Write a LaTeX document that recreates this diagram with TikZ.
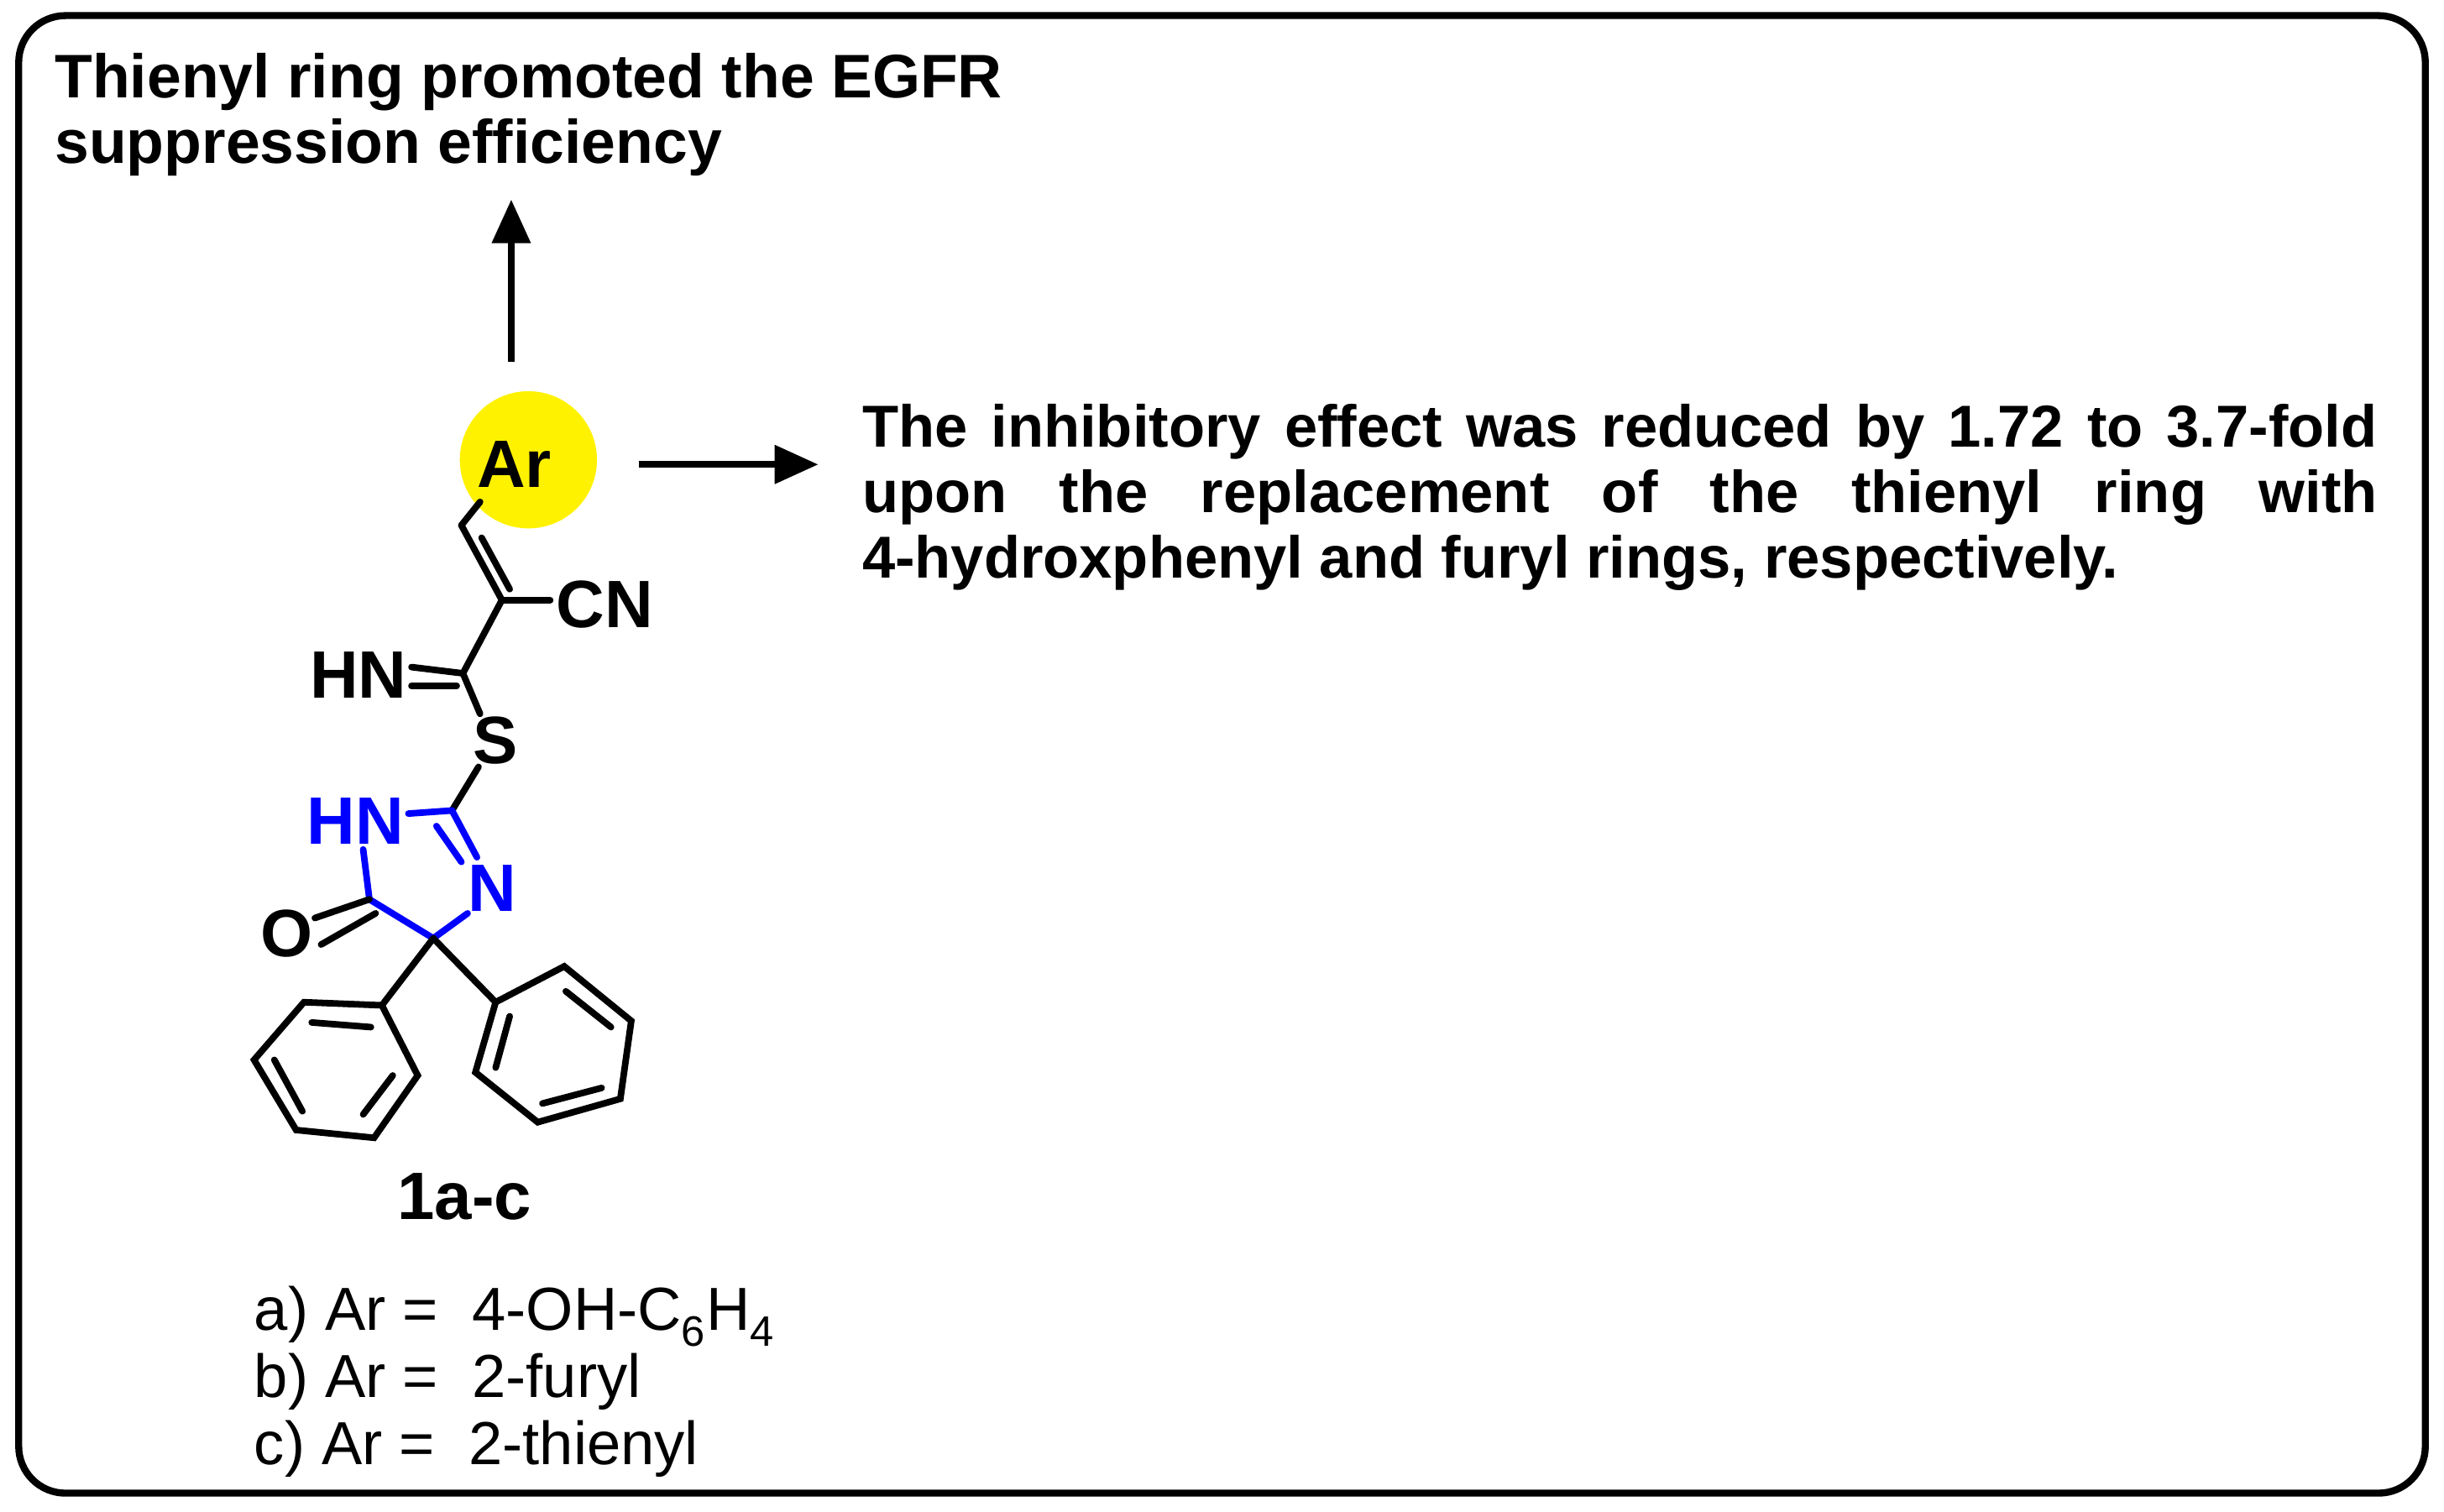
\documentclass[tikz,border=0pt]{standalone}
\usepackage{fontspec}
\setmainfont{Liberation Sans}
\usetikzlibrary{arrows.meta}
\begin{document}
\begin{tikzpicture}[x=1pt,y=-1pt,
  bond/.style={line width=4.2pt,line cap=round},
  bl/.style={bond,draw=blue},
  arr/.style={line width=4.5pt,-{Triangle[length=28pt,width=24pt]}},
  lab/.style={font=\fontsize{43}{48}\selectfont\bfseries,inner sep=0pt},
  txt/.style={font=\fontsize{38}{42}\selectfont\bfseries,inner sep=0pt}]
\useasboundingbox (0,0) rectangle (1568,970);
\fill[white] (0,0) rectangle (1568,970);
\draw[line width=4.5pt,rounded corners=30pt] (12,10) rectangle (1556,958);
\node[txt,font=\fontsize{39.5}{42}\selectfont\bfseries,anchor=north west,align=left] (title) at (35,34) {Thienyl ring promoted the EGFR\\suppression efficiency};
\fill[yellow] (339,295) circle (44);
\node[lab] (ar) at (330,298) {Ar};
\coordinate (up0) at (328,232); \coordinate (up1) at (328,128);
\draw[arr] (up0) -- (up1);
\coordinate (r0) at (410,298); \coordinate (r1) at (525,298);
\draw[arr] (r0) -- (r1);
\node[txt,anchor=north west,text width=972pt,align=justify] (desc) at (553,259) {The inhibitory effect was reduced by 1.72 to 3.7-fold\linebreak upon the replacement of the thienyl ring with\linebreak 4-hydroxphenyl and furyl rings, respectively.};
% skeleton
\coordinate (a1) at (296,337);
\coordinate (a2) at (322,385);
\coordinate (a3) at (297,432);
\node[lab] (cn) at (388,388) {CN};
\node[lab] (hn) at (230,433) {HN};
\node[lab] (s) at (318,475) {S};
\coordinate (c2) at (290,520);
\node[lab,text=blue] (n3) at (316,570) {N};
\node[lab,text=blue] (n1) at (228,527) {HN};
\coordinate (c4) at (278,602);
\coordinate (c5) at (237,577);
\node[lab] (o) at (184,599) {O};
\draw[bond] (308,322) -- (a1);
\draw[bond] (a1) -- (a2);
\draw[bond] (309,345) -- (327,378);
\draw[bond] (a2) -- (353,385);
\draw[bond] (a2) -- (a3);
\draw[bond] (a3) -- (264,428);
\draw[bond] (293,440) -- (264,440);
\draw[bond] (a3) -- (308,458);
\draw[bond] (307,492) -- (c2);
\draw[bl] (c2) -- (306,550);
\draw[bl] (280,530) -- (296,553);
\draw[bl] (300,586) -- (c4);
\draw[bl] (c4) -- (c5);
\draw[bl] (c5) -- (233,545);
\draw[bl] (262,522) -- (c2);
\draw[bond] (c5) -- (202,589);
\draw[bond] (241,586) -- (206,606);
% phenyls
\draw[bond] (c4) -- (245,645);
\draw[bond] (c4) -- (318,643);
\draw[bond] (245,645) -- (268,690) -- (240,730) -- (190,725) -- (163,680) -- (195,643) -- cycle;
\draw[bond] (252,690) -- (233,715);
\draw[bond] (194,713) -- (176,680);
\draw[bond] (200,656) -- (238,659);
\draw[bond] (318,643) -- (362,620) -- (405,655) -- (398,705) -- (345,720) -- (305,688) -- cycle;
\draw[bond] (363,636) -- (392,659);
\draw[bond] (386,698) -- (348,708);
\draw[bond] (318,685) -- (327,652);
\node[lab] (lbl) at (298,768) {1a-c};
\node[font=\fontsize{39}{43}\selectfont,anchor=north west,align=left,inner sep=0pt] (list) at (163,825) {a) Ar =\ \ 4-OH-C\textsubscript{6}H\textsubscript{4}\\b) Ar =\ \ 2-furyl\\c) Ar =\ \ 2-thienyl};
\end{tikzpicture}
\end{document}
